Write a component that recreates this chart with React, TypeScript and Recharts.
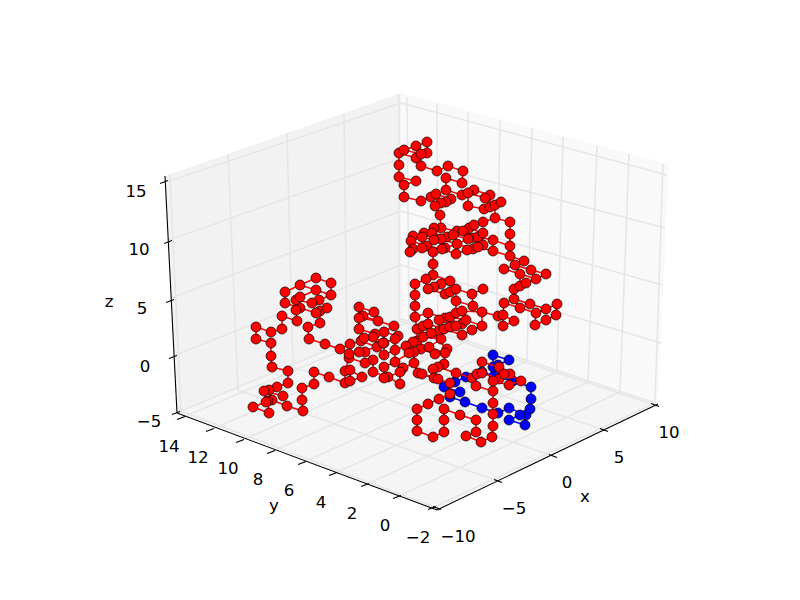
// App.tsx
// Self-avoiding walk drawn on a 3D box. Recharts has no 3D, so every value
// below is the projected position, in plane units.
import React from "react";
import { ScatterChart, Scatter, XAxis, YAxis } from "recharts";

type Pair = [number, number];

const xTickLabels = ["\u221210", "\u22125", "0", "5", "10"];
const yTickLabels = ["14", "12", "10", "8", "6", "4", "2", "0", "\u22122"];
const zTickLabels = ["15", "10", "5", "0", "\u22125"];

// where each axis tick sits, same order as the labels
const xTicks: Pair[] = [[437, 508], [498, 481], [553, 456], [604, 430], [655, 405]];
const yTicks: Pair[] = [[181, 418], [210, 430], [240, 441], [271, 452], [302, 463], [333, 474], [365, 485], [397, 497], [432, 508]];
const zTicks: Pair[] = [[164, 182], [168, 242], [170, 301], [173, 357], [176, 413]];

const xLabelAt: Pair[] = [[458, 536], [514, 508], [567, 482], [619, 457], [669, 432]];
const yLabelAt: Pair[] = [[169, 446], [198, 457], [228, 468], [258, 479], [289, 490], [321, 502], [352, 513], [385, 525], [418, 537]];
const zLabelAt: Pair[] = [[136, 191], [139, 249], [142, 308], [145, 366], [149, 421]];

// box walls
const wallLeft: Pair[] = [[165, 176], [401, 93], [402, 319], [177, 413]];
const wallRight: Pair[] = [[401, 93], [669, 164], [658, 404], [402, 319]];
const wallFloor: Pair[] = [[177, 413], [402, 319], [658, 404], [437, 510]];

// grid lines, as start/end pairs
const gridLeftWall: Pair[][] = [
  [[170, 175], [181, 411]], [[228, 154], [238, 390]], [[287, 133], [293, 367]], [[344, 113], [347, 343]], [[399, 94], [399, 321]],
  [[176, 413], [402, 319]], [[173, 356], [401, 265]], [[171, 298], [401, 211]], [[169, 240], [401, 158]], [[167, 182], [401, 103]],
];
const gridRightWall: Pair[][] = [
  [[407, 97], [409, 322]], [[437, 103], [438, 331]], [[468, 112], [468, 341]], [[500, 120], [496, 351]], [[532, 128], [527, 361]],
  [[563, 137], [557, 372]], [[597, 146], [588, 382]], [[629, 154], [620, 392]], [[663, 164], [655, 403]],
  [[402, 319], [655, 403]], [[401, 265], [661, 343]], [[401, 211], [662, 285]], [[401, 158], [665, 228]], [[401, 103], [667, 175]],
];
const gridFloor: Pair[][] = [
  [[437, 508], [181, 411]], [[498, 481], [238, 390]], [[553, 456], [293, 367]], [[604, 430], [347, 343]], [[655, 405], [399, 321]],
  [[181, 418], [409, 322]], [[210, 430], [438, 331]], [[240, 441], [468, 341]], [[271, 452], [496, 351]], [[302, 463], [527, 361]],
  [[333, 474], [557, 372]], [[365, 485], [588, 382]], [[397, 497], [620, 392]], [[432, 508], [655, 403]],
];

const axisLines: Pair[][] = [
  [[165, 176], [177, 413]],
  [[177, 413], [437, 510]],
  [[437, 510], [658, 404]],
];

// blue stretch of the chain
const blueChains: Pair[][] = [
  [[460, 392], [444, 387], [450, 397], [465, 402], [482, 408], [498, 413], [509, 408], [526, 415], [525, 425], [509, 420], [520, 415], [530, 409], [531, 399], [531, 387], [513, 381], [494, 376], [482, 372], [466, 377], [455, 382]],
  [[494, 376], [493, 367], [498, 365], [509, 360], [493, 355], [493, 367]],
];

// red stretches, top of the picture first
const redTop: Pair[][] = [
  [[399, 177], [399, 165], [399, 153], [416, 158], [427, 153], [427, 142], [416, 146], [404, 150], [421, 154], [421, 166], [437, 171], [448, 166], [463, 171], [462, 183], [446, 178], [446, 190], [462, 195], [474, 190], [490, 195], [485, 198], [468, 193], [468, 206], [484, 209], [490, 207], [495, 205], [495, 218], [510, 222], [510, 234], [510, 246], [510, 256], [524, 261], [515, 265], [504, 269], [520, 274], [536, 279], [546, 274], [531, 270], [515, 265]],
  [[490, 195], [490, 207]],
  [[495, 205], [501, 202]],
  [[399, 177], [416, 181], [404, 185], [404, 197], [421, 201], [431, 197], [436, 194], [451, 199], [446, 202], [441, 203], [435, 206], [440, 215], [441, 228]],
  [[431, 197], [446, 202]],
];

const redMiddle: Pair[][] = [
  [[441, 228], [434, 228], [424, 233], [413, 236], [411, 241], [427, 246], [413, 249], [410, 252], [422, 248], [422, 237], [432, 233], [447, 237]],
  [[441, 228], [457, 231], [473, 238], [478, 237], [483, 233], [469, 228]],
  [[495, 218], [483, 222], [474, 225], [469, 228], [463, 231], [457, 231], [453, 235], [447, 237], [441, 239], [434, 240], [422, 237]],
  [[463, 231], [478, 237], [493, 240], [510, 246]],
  [[424, 233], [441, 239], [457, 244], [445, 248], [433, 252], [433, 264], [433, 275]],
  [[453, 235], [468, 239], [473, 238]],
  [[468, 239], [457, 244], [473, 249]],
  [[483, 233], [483, 245], [478, 247], [473, 249], [467, 250], [456, 254], [442, 249], [427, 246]],
  [[478, 247], [493, 251], [510, 256]],
  [[493, 240], [493, 251]],
];

const redLowerRight: Pair[][] = [
  [[433, 275], [450, 281], [441, 284], [434, 287], [428, 289], [445, 294], [450, 292], [456, 289], [472, 294], [483, 289]],
  [[450, 281], [450, 292]],
  [[433, 275], [426, 279], [415, 284], [415, 295], [415, 306], [415, 317], [428, 313], [445, 318]],
  [[456, 289], [456, 301], [473, 306], [472, 294]],
  [[439, 320], [445, 318], [450, 317], [456, 313], [462, 311], [482, 312], [498, 316], [503, 315], [514, 321]],
  [[456, 301], [456, 313]],
  [[445, 318], [462, 324]],
  [[450, 317], [466, 320], [482, 326], [482, 312]],
  [[439, 331], [444, 329], [450, 327], [456, 326], [462, 324], [466, 320]],
  [[482, 326], [472, 330], [462, 335], [444, 329]],
  [[503, 315], [503, 326], [514, 321]],
  [[503, 315], [504, 303], [520, 308], [514, 299], [514, 289], [520, 286], [526, 283], [536, 279]],
  [[520, 274], [520, 286]],
  [[514, 299], [530, 304], [546, 309], [557, 304], [556, 315], [546, 320], [535, 325], [536, 313], [546, 309]],
  [[520, 308], [536, 313]],
];

const redCentre: Pair[][] = [
  [[415, 317], [417, 329], [417, 341], [413, 342], [406, 346], [395, 350], [384, 355], [384, 343], [384, 332], [398, 336], [395, 339], [395, 350]],
  [[417, 329], [423, 326], [428, 324], [444, 329]],
  [[428, 313], [428, 324]],
  [[423, 326], [423, 337], [441, 339], [431, 333], [447, 349], [445, 353], [435, 354], [421, 349], [429, 347], [445, 353], [444, 364], [438, 367], [433, 369], [434, 378], [450, 383]],
  [[439, 331], [439, 320]],
  [[429, 347], [441, 339]],
  [[421, 349], [414, 352], [409, 353], [395, 362], [395, 350]],
  [[414, 352], [414, 363], [418, 373], [422, 374], [438, 379]],
  [[414, 363], [403, 368], [400, 372], [400, 384], [388, 377], [384, 378], [384, 367], [395, 362]],
  [[400, 372], [388, 377], [373, 372], [373, 360], [365, 363], [349, 358], [349, 354], [365, 352], [359, 352], [377, 347], [361, 341], [350, 344], [340, 349]],
  [[373, 360], [365, 352]],
  [[418, 373], [434, 378]],
  [[359, 307], [374, 312], [363, 316], [359, 318], [378, 321], [394, 326], [384, 332], [375, 334], [373, 337], [364, 338], [361, 341]],
  [[363, 316], [378, 321]],
  [[359, 307], [359, 318], [359, 329], [375, 334]],
  [[364, 338], [383, 343], [395, 339]],
  [[373, 337], [384, 343]],
  [[377, 347], [383, 343]],
  [[349, 358], [345, 371], [345, 383], [350, 381], [362, 377], [350, 370], [345, 371]],
  [[350, 370], [350, 381]],
];

const redLeft: Pair[][] = [
  [[340, 349], [325, 344], [309, 339], [308, 327], [320, 323], [320, 311], [327, 308], [316, 313], [300, 308], [296, 310], [297, 321], [282, 316], [282, 329], [271, 332], [256, 327], [256, 339], [271, 343], [271, 356], [272, 367], [288, 371], [288, 383], [277, 387], [269, 390], [264, 391], [283, 396]],
  [[300, 308], [285, 303], [285, 292], [300, 285], [316, 278], [331, 283], [331, 295], [319, 300], [312, 303], [296, 300], [300, 297], [316, 290], [300, 285]],
  [[316, 290], [331, 295]],
  [[296, 300], [296, 310]],
  [[319, 300], [327, 308]],
  [[345, 383], [329, 377], [314, 372], [314, 384], [302, 388], [302, 400], [303, 411], [287, 406], [272, 400], [268, 401], [266, 402], [253, 407], [269, 413], [268, 401]],
  [[264, 391], [266, 402]],
  [[269, 390], [272, 400]],
];

const redLowerBox: Pair[][] = [
  [[456, 373], [472, 378], [476, 386], [493, 391], [493, 403], [493, 414], [493, 426], [492, 437], [481, 442], [466, 436], [476, 432], [476, 420], [460, 415], [444, 409], [444, 420], [444, 432], [433, 437], [417, 431], [417, 420], [417, 409], [428, 404], [439, 399], [450, 394], [450, 383]],
  [[438, 367], [456, 373]],
  [[472, 378], [477, 374], [482, 373], [482, 362], [499, 367], [499, 379], [493, 381], [509, 385], [521, 381], [510, 374], [504, 374]],
  [[482, 373], [499, 379], [504, 374]],
];

const redChains = [...redTop, ...redMiddle, ...redLowerRight, ...redCentre, ...redLeft, ...redLowerBox];

function toPoints(pairs: Pair[]) {
  return pairs.map(([x, y]) => ({ x, y }));
}

// every node once, so its outline is not drawn twice
function uniqueNodes(chains: Pair[][]) {
  const seen = new Set<string>();
  const out: { x: number; y: number }[] = [];
  chains.flat().forEach(([x, y]) => {
    const key = `${x},${y}`;
    if (!seen.has(key)) {
      seen.add(key);
      out.push({ x, y });
    }
  });
  return out;
}

function labelPoints(at: Pair[], labels: string[]) {
  return at.map(([x, y], i) => ({ x, y, label: labels[i] }));
}

const noMarker = () => <g />;

const pointList = (props: any) => props.points.map((p: any) => `${p.x},${p.y}`).join(" ");

const wallShape = (fill: string) => (props: any) => (
  <polygon points={pointList(props)} fill={fill} stroke="none" />
);

const chainShape = (stroke: string, width: number) => (props: any) => (
  <polyline points={pointList(props)} fill="none" stroke={stroke} strokeWidth={width} />
);

const nodeShape = (fill: string) => (props: any) => (
  <circle cx={props.cx} cy={props.cy} r={5} fill={fill} stroke="#000" strokeWidth={0.7} />
);

const textShape = (props: any) => (
  <text
    x={props.cx}
    y={props.cy}
    textAnchor="middle"
    dominantBaseline="central"
    fontFamily="DejaVu Sans"
    fontSize={16.67}
    fill="#000"
  >
    {props.payload.label}
  </text>
);

// short tick strokes, each running along the direction given
function tickSegments(ticks: Pair[], dx: number, dy: number): Pair[][] {
  return ticks.map(([x, y]) => [[x - dx, y - dy], [x + dx, y + dy]]);
}

const tickLines: Pair[][] = [
  ...tickSegments(xTicks, 4, 1.6),
  ...tickSegments(yTicks, 4, -1.6),
  ...tickSegments(zTicks, 4, -1.4),
];

const titles = [
  { x: 585, y: 496, label: "x" },
  { x: 274, y: 505, label: "y" },
  { x: 109, y: 301, label: "z" },
];

function segmentSeries(segments: Pair[][], name: string, stroke: string, width: number) {
  return segments.map((s, i) => (
    <Scatter
      key={`${name}-${i}`}
      data={toPoints(s)}
      shape={noMarker}
      line={chainShape(stroke, width)}
      isAnimationActive={false}
    />
  ));
}

export default function App() {
  return (
    <div style={{ position: "absolute", left: 0, top: 0, width: 800, height: 600, background: "#fff" }}>
      <ScatterChart width={800} height={600} margin={{ top: 0, right: 0, bottom: 0, left: 0 }}>
        <XAxis type="number" dataKey="x" domain={[0, 800]} hide />
        <YAxis type="number" dataKey="y" domain={[0, 600]} reversed hide />

        <Scatter data={toPoints(wallLeft)} shape={noMarker} line={wallShape("#f2f2f2")} isAnimationActive={false} />
        <Scatter data={toPoints(wallRight)} shape={noMarker} line={wallShape("#f9f9f9")} isAnimationActive={false} />
        <Scatter data={toPoints(wallFloor)} shape={noMarker} line={wallShape("#f5f5f5")} isAnimationActive={false} />

        {segmentSeries(gridLeftWall, "gl", "#e6e6e6", 1.6)}
        {segmentSeries(gridRightWall, "gr", "#e6e6e6", 1.6)}
        {segmentSeries(gridFloor, "gf", "#e6e6e6", 1.6)}

        {segmentSeries(axisLines, "axis", "#000", 1.1)}
        {segmentSeries(tickLines, "tick", "#000", 1.1)}

        <Scatter data={labelPoints(xLabelAt, xTickLabels)} shape={textShape} isAnimationActive={false} />
        <Scatter data={labelPoints(yLabelAt, yTickLabels)} shape={textShape} isAnimationActive={false} />
        <Scatter data={labelPoints(zLabelAt, zTickLabels)} shape={textShape} isAnimationActive={false} />
        <Scatter data={titles} shape={textShape} isAnimationActive={false} />

        {segmentSeries(blueChains, "blue", "#0000ff", 1.5)}
        <Scatter data={uniqueNodes(blueChains)} shape={nodeShape("#0000ff")} isAnimationActive={false} />

        {segmentSeries(redChains, "red", "#ff0000", 1.5)}
        <Scatter data={uniqueNodes(redChains)} shape={nodeShape("#ff0000")} isAnimationActive={false} />
      </ScatterChart>
    </div>
  );
}
